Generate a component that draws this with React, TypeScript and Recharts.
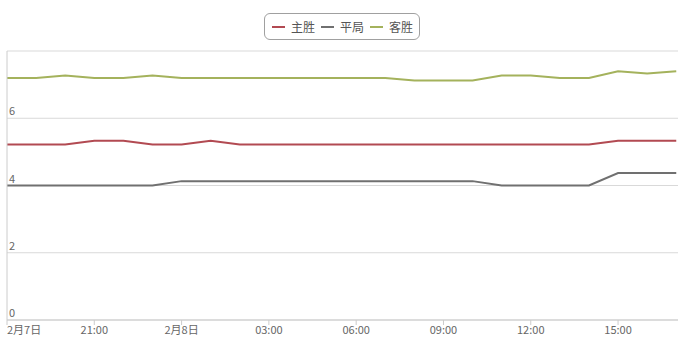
import React from 'react';
import { LineChart, Line, XAxis, YAxis, CartesianGrid, Legend } from 'recharts';

// Hourly odds from 2月7日 18:00 to 2月8日 17:00 (index = hours since start)
const hourIndex = [0, 1, 2, 3, 4, 5, 6, 7, 8, 9, 10, 11, 12, 13, 14, 15, 16, 17, 18, 19, 20, 21, 22, 23];
const homeWin = [5.22, 5.22, 5.22, 5.33, 5.33, 5.22, 5.22, 5.33, 5.22, 5.22, 5.22, 5.22, 5.22, 5.22, 5.22, 5.22, 5.22, 5.22, 5.22, 5.22, 5.22, 5.33, 5.33, 5.33];
const draw = [4.0, 4.0, 4.0, 4.0, 4.0, 4.0, 4.13, 4.13, 4.13, 4.13, 4.13, 4.13, 4.13, 4.13, 4.13, 4.13, 4.13, 4.0, 4.0, 4.0, 4.0, 4.37, 4.37, 4.37];
const awayWin = [7.2, 7.2, 7.27, 7.2, 7.2, 7.27, 7.2, 7.2, 7.2, 7.2, 7.2, 7.2, 7.2, 7.2, 7.12, 7.12, 7.12, 7.27, 7.27, 7.2, 7.2, 7.4, 7.33, 7.4];

const xTicks = [0, 3, 6, 9, 12, 15, 18, 21];
const xTickLabels = ['2月7日', '21:00', '2月8日', '03:00', '06:00', '09:00', '12:00', '15:00'];
const yTicks = [0, 2, 4, 6, 8];

const seriesNames = ['主胜', '平局', '客胜'];
const seriesColors = ['#b24a52', '#707070', '#a4b25c'];

const data = hourIndex.map((h, i) => ({
  h,
  home: homeWin[i],
  draw: draw[i],
  away: awayWin[i],
}));

const FONT = '"Noto Sans CJK SC", "Noto Sans", sans-serif';

const XTick = (props: any) => {
  const { x, y, payload, index } = props;
  const i = xTicks.indexOf(payload.value);
  const label = i >= 0 ? xTickLabels[i] : '';
  return (
    <text
      x={x}
      y={y}
      dy="0.71em"
      textAnchor={index === 0 ? 'start' : 'middle'}
      fill="#666"
      fontSize={11}
      fontFamily={FONT}
    >
      {label}
    </text>
  );
};

const YTick = (props: any) => {
  const { y, payload } = props;
  if (payload.value === 8) return <g />;
  return (
    <text x={9} y={y - 3} textAnchor="start" fill="#666" fontSize={11} fontFamily={FONT}>
      {payload.value}
    </text>
  );
};

const LegendBox = () => (
  <div
    style={{
      display: 'flex',
      justifyContent: 'center',
      width: 678,
    }}
  >
    <div
      style={{
        display: 'flex',
        alignItems: 'center',
        border: '1px solid #a0a0a0',
        borderRadius: 6,
        padding: '0 6px 0 7px',
        height: 27,
        fontFamily: FONT,
        fontSize: 12,
        color: '#555',
        boxSizing: 'border-box',
        marginLeft: 6,
      }}
    >
      {seriesNames.map((name, i) => (
        <div key={name} style={{ display: 'flex', alignItems: 'center', marginRight: i < 2 ? 6 : 0 }}>
          <span
            style={{
              display: 'inline-block',
              width: 13,
              height: 2,
              background: seriesColors[i],
              marginRight: 6,
            }}
          />
          <span>{name}</span>
        </div>
      ))}
    </div>
  </div>
);

export default function App() {
  return (
    <div style={{ position: 'absolute', left: 0, top: 0, background: '#fff' }}>
      <LineChart width={678} height={344} data={data} margin={{ top: 51, right: 0, bottom: 0, left: 0 }}>
        <CartesianGrid vertical={false} stroke="#d9d9d9" />
        <XAxis
          dataKey="h"
          type="number"
          domain={[0, 23.06]}
          ticks={xTicks}
          tick={<XTick />}
          interval={0}
          height={24}
          axisLine={{ stroke: '#ccc' }}
          tickLine={{ stroke: '#ccc' }}
          tickSize={5}
          tickMargin={1}
          allowDataOverflow
        />
        <YAxis
          type="number"
          domain={[0, 8]}
          ticks={yTicks}
          width={7}
          tick={<YTick />}
          tickLine={false}
          axisLine={{ stroke: '#ccc' }}
          interval={0}
        />
        <Legend
          verticalAlign="middle"
          content={<LegendBox />}
          wrapperStyle={{ position: 'absolute', top: 13, left: 0, width: 678 }}
        />
        <Line dataKey="home" name={seriesNames[0]} stroke={seriesColors[0]} strokeWidth={2} dot={false} isAnimationActive={false} />
        <Line dataKey="draw" name={seriesNames[1]} stroke={seriesColors[1]} strokeWidth={2} dot={false} isAnimationActive={false} />
        <Line dataKey="away" name={seriesNames[2]} stroke={seriesColors[2]} strokeWidth={2} dot={false} isAnimationActive={false} />
      </LineChart>
    </div>
  );
}
